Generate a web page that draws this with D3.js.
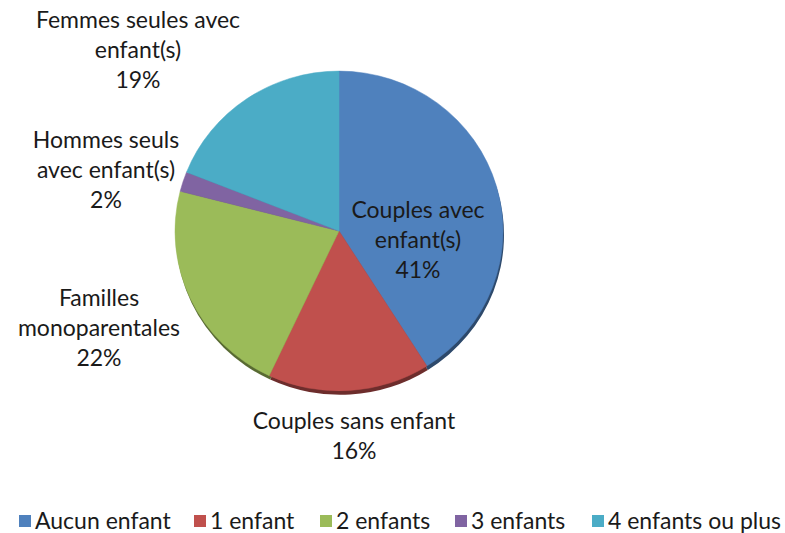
<!DOCTYPE html>
<html>
<head>
<meta charset="utf-8">
<script src="https://cdn.jsdelivr.net/npm/d3@7"></script>
<style>
  body { margin: 0; background: #fff; }
  text { font-family: Lato, "Open Sans", sans-serif; fill: #1a1a1a; }
</style>
</head>
<body>
<script>
// data
var categories = ['Couples avec enfant(s)', 'Couples sans enfant', 'Familles monoparentales',
                  'Hommes seuls avec enfant(s)', 'Femmes seules avec enfant(s)'];
var values = [41, 16, 22, 2, 19];
var legendLabels = ['Aucun enfant', '1 enfant', '2 enfants', '3 enfants', '4 enfants ou plus'];
var colors = ['#4f81bd', '#c0504d', '#9bbb59', '#8064a2', '#4bacc6'];

// label lines (split as in the picture)
var labelLines = [
  ['Couples avec', 'enfant(s)', '41%'],
  ['Couples sans enfant', '16%'],
  ['Familles', 'monoparentales', '22%'],
  ['Hommes seuls', 'avec enfant(s)', '2%'],
  ['Femmes seules avec', 'enfant(s)', '19%']
];
var labelPos = [[418, 218], [354, 429], [99, 306], [106, 148], [138, 28]];

var W = 785, H = 533;
var svg = d3.select('body').append('svg')
    .attr('width', W)
    .attr('height', H);

var cx = 339, cy = 231, r = 164;

var pie = d3.pie().sort(null).value(function(d){ return d; });
var arcs = pie(values);
var arc = d3.arc().innerRadius(0).outerRadius(r);

var g = svg.append('g')
    .attr('transform', 'translate(' + cx + ',' + cy + ') scale(1,0.975)');

// dark rim under the pie for the 3d edge
g.append('g').attr('transform', 'translate(1,4)')
  .selectAll('path').data(arcs).enter().append('path')
    .attr('d', arc)
    .attr('fill', function(d, i){ return d3.color(colors[i]).darker(1.6); });

g.selectAll('path.slice').data(arcs).enter().append('path')
    .attr('class', 'slice')
    .attr('d', arc)
    .attr('fill', function(d, i){ return colors[i]; })
    .attr('stroke', function(d, i){ return colors[i]; })
    .attr('stroke-width', 0.5);

// labels
var lineH = 30;
labelLines.forEach(function(lines, i){
  var t = svg.append('text')
      .attr('x', labelPos[i][0])
      .attr('y', labelPos[i][1])
      .attr('text-anchor', 'middle')
      .style('font-size', '23px');
  lines.forEach(function(l, j){
    t.append('tspan')
      .attr('x', labelPos[i][0])
      .attr('dy', j === 0 ? 0 : lineH)
      .text(l);
  });
});

// legend
var legendX = [19, 194, 320, 455, 592];
var lg = svg.append('g');
legendLabels.forEach(function(l, i){
  lg.append('rect')
    .attr('x', legendX[i])
    .attr('y', 515)
    .attr('width', 12)
    .attr('height', 12)
    .attr('fill', colors[i]);
  lg.append('text')
    .attr('x', legendX[i] + 16)
    .attr('y', 529)
    .style('font-size', '23px')
    .text(l);
});
</script>
</body>
</html>
